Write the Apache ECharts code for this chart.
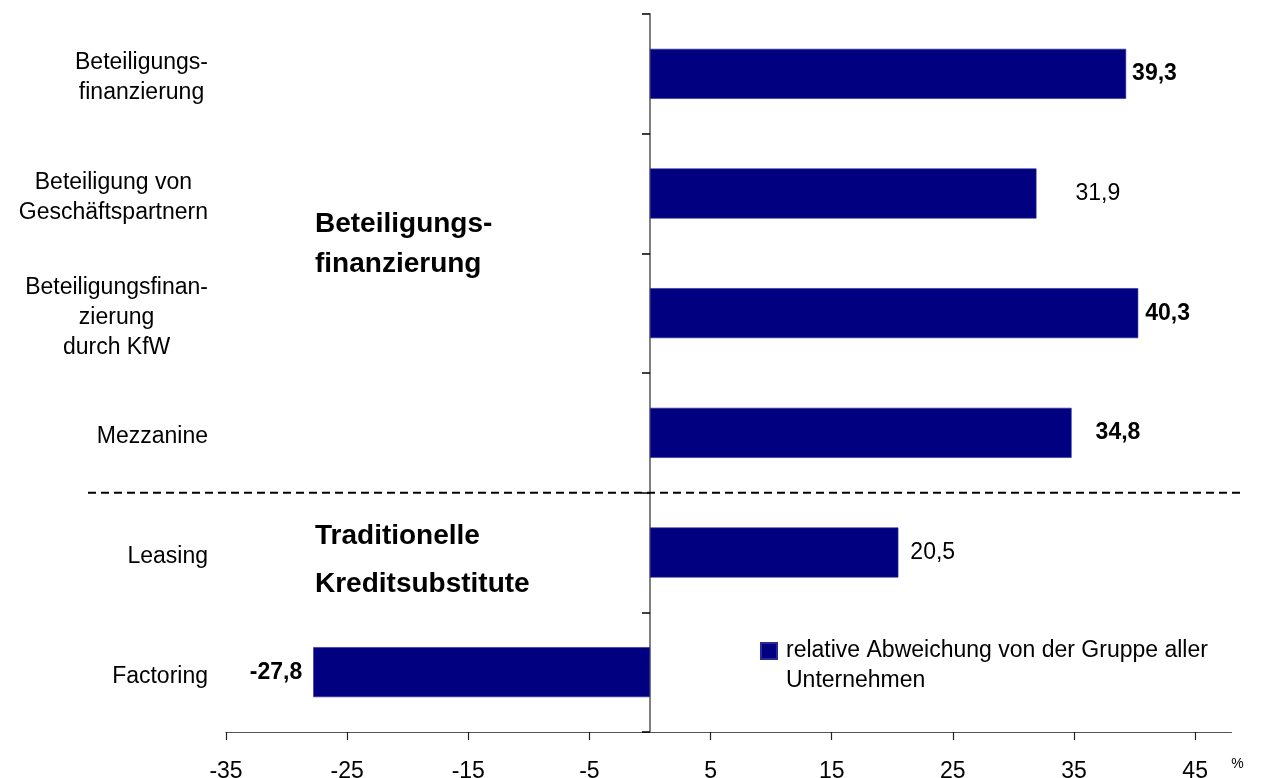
<!DOCTYPE html>
<html>
<head>
<meta charset="utf-8">
<script src="https://cdn.jsdelivr.net/npm/echarts@6/dist/echarts.min.js"></script>
<style>
html,body{margin:0;padding:0;background:#fff;}
#chart{width:1278px;height:778px;}
</style>
</head>
<body>
<div id="chart"></div>
<script>
// ---- data ----
const categories = [
  'Beteiligungs-\nfinanzierung',
  'Beteiligung von\nGeschäftspartnern',
  'Beteiligungsfinan-\nzierung\ndurch KfW',
  'Mezzanine',
  'Leasing',
  'Factoring'
];
const values = [39.3, 31.9, 40.3, 34.8, 20.5, -27.8];
const seriesName = 'relative Abweichung von der Gruppe aller\nUnternehmen';
const tickValues = [-35, -25, -15, -5, 5, 15, 25, 35, 45];
const groupLabels = ['Beteiligungs-\nfinanzierung', 'Traditionelle\nKreditsubstitute'];

// ---- label styling (not data) ----
const labelBold = [true, false, true, true, false, true];
const labelGap = [6, 39, 7, 24, 12, 11];

const FONT = '"Liberation Sans", Arial, Helvetica, sans-serif';
const chart = echarts.init(document.getElementById('chart'), null, {renderer: 'canvas'});

const barData = values.map((v, i) => ({
  value: v,
  label: {
    position: v < 0 ? 'left' : 'right',
    distance: labelGap[i],
    fontWeight: labelBold[i] ? 'bold' : 'normal'
  }
}));

const option = {
  animation: false,
  backgroundColor: '#fff',
  textStyle: {fontFamily: FONT},
  grid: {left: 226, right: 46.5, top: 14, bottom: 46, containLabel: false, outerBoundsMode: 'none'},
  legend: {
    show: true,
    left: 760,
    top: 606,
    padding: 0,
    icon: 'rect',
    itemWidth: 16,
    itemHeight: 16,
    selectedMode: false,
    data: [seriesName],
    formatter: name => '\n' + name,
    textStyle: {
      fontFamily: FONT, fontSize: 23, color: '#000', lineHeight: 30,
      padding: [0, 0, 0, 4]
    }
  },
  xAxis: {
    type: 'value',
    min: -35,
    max: 48,
    interval: 10,
    position: 'bottom',
    name: '%',
    nameLocation: 'end',
    nameGap: 6,
    nameTextStyle: {
      fontFamily: FONT, fontSize: 14, color: '#000',
      align: 'center', verticalAlign: 'top', padding: [25, 0, 0, 0]
    },
    axisLine: {show: true, onZero: false, lineStyle: {color: '#555', width: 1.2}},
    axisTick: {show: true, inside: false, length: 8, customValues: tickValues, lineStyle: {color: '#222', width: 1.2}},
    axisLabel: {
      show: true, margin: 28, customValues: tickValues,
      fontFamily: FONT, fontSize: 23, color: '#000'
    },
    splitLine: {show: false}
  },
  yAxis: [
    {
      type: 'category',
      data: categories,
      inverse: true,
      position: 'left',
      axisLine: {show: false, onZero: false},
      axisTick: {show: false},
      axisLabel: {
        show: true,
        margin: 18,
        interval: 0,
        formatter: function (v) {
          return '{s| }\n' + v.split('\n').map(l => '{c|' + l + '}').join('\n');
        },
        rich: {
          s: {align: 'center', fontSize: 1, lineHeight: 8},
          c: {align: 'center', fontFamily: FONT, fontSize: 23, lineHeight: 30, color: '#000'}
        }
      }
    },
    {
      type: 'category',
      data: categories,
      inverse: true,
      position: 'left',
      axisLine: {show: true, onZero: true, lineStyle: {color: '#808080', width: 2}},
      axisTick: {show: true, inside: false, length: 8, lineStyle: {color: '#000', width: 1.5}},
      axisLabel: {show: false}
    }
  ],
  series: [
    {
      name: seriesName,
      type: 'bar',
      yAxisIndex: 0,
      barWidth: 50,
      itemStyle: {color: '#000080', borderColor: '#2a2a96', borderWidth: 0.6},
      label: {
        show: true,
        fontFamily: FONT,
        fontSize: 23,
        color: '#000',
        formatter: p => p.value.toFixed(1).replace('.', ',')
      },
      data: barData
    }
  ]
};

chart.setOption(option);

// separator line between the two groups, placed at the category boundary
const yA = chart.convertToPixel({yAxisIndex: 1}, 3);
const yB = chart.convertToPixel({yAxisIndex: 1}, 4);
const ySep = (yA + yB) / 2;

chart.setOption({
  graphic: [
    {
      type: 'line',
      z: 100,
      shape: {x1: 88, y1: ySep, x2: 1245, y2: ySep},
      style: {stroke: '#000', lineWidth: 2, lineDash: [8, 5]}
    },
    {
      type: 'text',
      z: 100,
      x: 315, y: 244,
      style: {
        text: groupLabels[0],
        fontFamily: FONT, fontSize: 28, fontWeight: 'bold', fill: '#000',
        lineHeight: 40, verticalAlign: 'middle', align: 'left'
      }
    },
    {
      type: 'text',
      z: 100,
      x: 315, y: 560,
      style: {
        text: groupLabels[1],
        fontFamily: FONT, fontSize: 28, fontWeight: 'bold', fill: '#000',
        lineHeight: 48, verticalAlign: 'middle', align: 'left'
      }
    }
  ]
});
</script>
</body>
</html>
